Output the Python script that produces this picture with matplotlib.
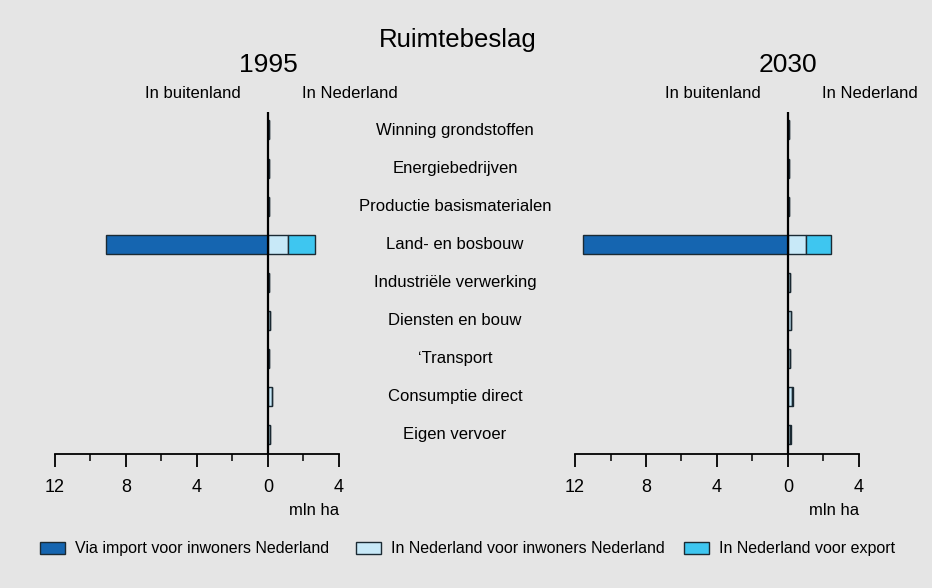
import matplotlib.pyplot as plt
from matplotlib.patches import Rectangle

plt.rcParams['font.family'] = ['Liberation Sans Narrow', 'Liberation Sans', 'DejaVu Sans']

categories = ['Winning grondstoffen', 'Energiebedrijven', 'Productie basismaterialen',
              'Land- en bosbouw', 'Industriële verwerking', 'Diensten en bouw',
              '\u02bbTransport', 'Consumptie direct', 'Eigen vervoer']
series = ['Via import voor inwoners Nederland',
          'In Nederland voor inwoners Nederland',
          'In Nederland voor export']
colors = ['#1565b0', '#c8e9f8', '#3ec6f0']

# mln ha, import drawn to the left ("In buitenland")
import_1995 = [0.0, 0.0, 0.0, 9.1, 0.0, 0.0, 0.0, 0.0, 0.0]
nl_1995 = [0.03, 0.03, 0.03, 1.1, 0.05, 0.12, 0.05, 0.2, 0.1]
export_1995 = [0.02, 0.02, 0.02, 1.55, 0.03, 0.02, 0.02, 0.02, 0.02]

import_2030 = [0.0, 0.0, 0.0, 11.55, 0.0, 0.0, 0.0, 0.0, 0.0]
nl_2030 = [0.03, 0.03, 0.03, 1.0, 0.1, 0.15, 0.1, 0.25, 0.12]
export_2030 = [0.02, 0.02, 0.02, 1.42, 0.03, 0.03, 0.02, 0.02, 0.03]

xticks = [-12, -8, -4, 0, 4]
xticklabels = ['12', '8', '4', '0', '4']

W, H = 932, 588
fig = plt.figure(figsize=(W / 100, H / 100), dpi=100)
fig.patch.set_facecolor('#e5e5e5')

edge = '#1b2a33'


def panel(x0, imp, nl, exp, year):
    # axes from 12 (left) to 4 (right), 284 px wide, y from 112 to 454 px
    ax = fig.add_axes([x0 / W, 1 - 454 / H, 284 / W, (454 - 112) / H])
    ax.set_facecolor('none')
    y = list(range(len(categories)))
    ax.barh(y, [-v for v in imp], height=0.5, color=colors[0], edgecolor=edge, linewidth=1)
    ax.barh(y, nl, height=0.5, color=colors[1], edgecolor=edge, linewidth=1)
    ax.barh(y, exp, left=nl, height=0.5, color=colors[2], edgecolor=edge, linewidth=1)
    ax.axvline(0, color='black', linewidth=1.6)
    ax.set_xlim(-12, 4)
    ax.set_ylim(8.5, -0.47)
    for s in ['top', 'left', 'right']:
        ax.spines[s].set_visible(False)
    ax.spines['bottom'].set_linewidth(1.3)
    ax.set_yticks([])
    ax.set_xticks(xticks)
    ax.set_xticklabels(xticklabels, fontsize=13)
    ax.set_xticks([-10, -6, -2, 2], minor=True)
    ax.tick_params(axis='x', which='major', length=9, width=1.3, pad=9)
    ax.tick_params(axis='x', which='minor', length=5, width=1.1)
    ax.text(1.0, -0.165, 'mln ha', transform=ax.transAxes, ha='right', va='center', fontsize=12)
    cx = x0 + 213
    fig.text(cx / W, 1 - 65 / H, year, ha='center', va='center', fontsize=19)
    fig.text((cx - 75) / W, 1 - 93 / H, 'In buitenland', ha='center', va='center', fontsize=12)
    fig.text((cx + 82) / W, 1 - 93 / H, 'In Nederland', ha='center', va='center', fontsize=12)
    return ax


panel(55, import_1995, nl_1995, export_1995, '1995')
panel(575, import_2030, nl_2030, export_2030, '2030')

fig.text(458 / W, 1 - 40 / H, 'Ruimtebeslag', ha='center', va='center', fontsize=18.5)

for i, cat in enumerate(categories):
    yp = 130 + i * 38.1
    fig.text(455 / W, 1 - yp / H, cat, ha='center', va='center', fontsize=12)

legend_x = [40, 356, 684]
for x, name, c in zip(legend_x, series, colors):
    fig.patches.append(Rectangle((x / W, 1 - 554 / H), 25 / W, 12 / H,
                                 transform=fig.transFigure, facecolor=c,
                                 edgecolor=edge, linewidth=1))
    fig.text((x + 35) / W, 1 - 553 / H, name, ha='left', va='baseline', fontsize=11.5)

fig.savefig('out.png', dpi=100, facecolor=fig.get_facecolor())
